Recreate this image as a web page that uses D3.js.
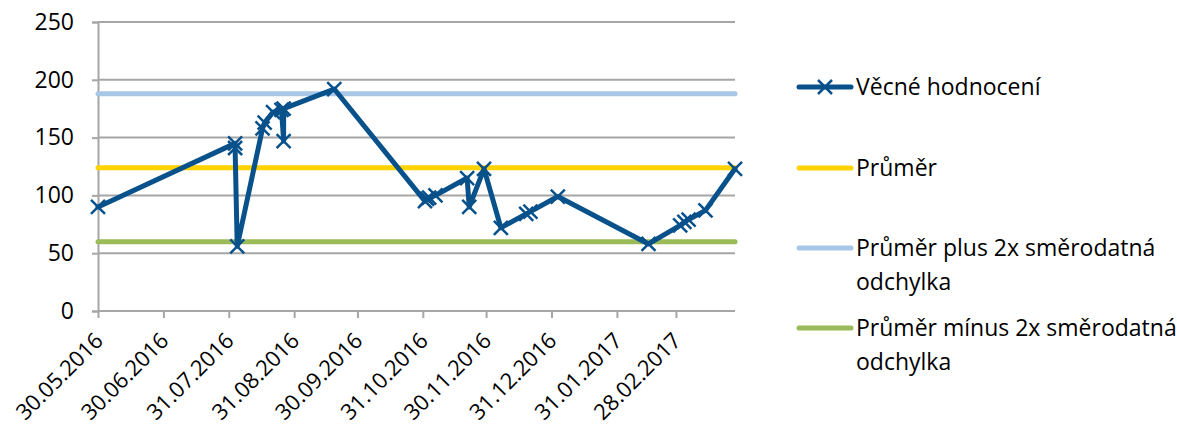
<!DOCTYPE html>
<html>
<head>
<meta charset="utf-8">
<script src="https://cdn.jsdelivr.net/npm/d3@7"></script>
<style>
  html, body { margin: 0; padding: 0; background: #fff; }
  svg { display: block; font-family: "Open Sans", sans-serif; }
</style>
</head>
<body>
<svg id="chart" width="1177" height="430"></svg>
<script>
// ---- data ----
const dates = ["30.05.2016","03.08.2016","03.08.2016","04.08.2016","16.08.2016","17.08.2016","21.08.2016","25.08.2016","26.08.2016","26.08.2016","19.09.2016","01.11.2016","02.11.2016","03.11.2016","06.11.2016","21.11.2016","22.11.2016","29.11.2016","07.12.2016","19.12.2016","21.12.2016","03.01.2017","15.02.2017","02.03.2017","04.03.2017","06.03.2017","14.03.2017","28.03.2017"];
const values = [90,145,141,56,158,163,172,174,147,175,192,95,97,98,100,115,90,123,72,84,86,99,58,74,77,79,87,123];
const mean = 124;
const meanPlus2sd = 188;
const meanMinus2sd = 60;
const xTickLabels = ["30.05.2016","30.06.2016","31.07.2016","31.08.2016","30.09.2016","31.10.2016","30.11.2016","31.12.2016","31.01.2017","28.02.2017"];
const yTicks = [0,50,100,150,200,250];
const seriesNames = ["Věcné hodnocení","Průměr","Průměr plus 2x směrodatná|odchylka","Průměr mínus 2x směrodatná|odchylka"];
const colors = ["#08518b","#ffd200","#a8c6e6","#9bbb59"];

// ---- layout ----
const parse = d3.utcParse("%d.%m.%Y");
const svg = d3.select("#chart");
const pLeft = 98, pRight = 735, pTop = 22, pBottom = 311;
const fs = 23;

const x = d3.scaleUtc().domain([parse(dates[0]), parse(dates[dates.length-1])]).range([pLeft, pRight]);
const y = d3.scaleLinear().domain([0, 250]).range([pBottom, pTop]);

// gridlines
svg.append("g").selectAll("line").data(yTicks.filter(d => d > 0)).join("line")
  .attr("x1", pLeft).attr("x2", pRight)
  .attr("y1", d => y(d)).attr("y2", d => y(d))
  .attr("stroke", "#a6a6a6").attr("stroke-width", 2);

// y axis
const yAxis = d3.axisLeft(y).tickValues(yTicks).tickSize(6).tickPadding(18);
const gy = svg.append("g").attr("transform", `translate(${pLeft},0)`).call(yAxis);
gy.select(".domain").attr("stroke", "#a6a6a6").attr("stroke-width", 2);
gy.selectAll(".tick line").attr("stroke", "#a6a6a6").attr("stroke-width", 2);
gy.selectAll(".tick text").attr("font-size", fs).attr("fill", "#000")
  .attr("font-family", "'Open Sans', sans-serif");

// x axis
const xAxis = d3.axisBottom(x).tickValues(xTickLabels.map(parse)).tickSize(7)
  .tickFormat(d3.utcFormat("%d.%m.%Y"));
const gx = svg.append("g").attr("transform", `translate(0,${pBottom})`).call(xAxis);
gx.select(".domain").attr("stroke", "#a6a6a6").attr("stroke-width", 2).attr("d", `M${pLeft},0H${pRight}`);
gx.selectAll(".tick line").attr("stroke", "#a6a6a6").attr("stroke-width", 2);
gx.selectAll(".tick text")
  .attr("font-size", 22).attr("fill", "#000")
  .attr("font-family", "'Open Sans', sans-serif")
  .attr("text-anchor", "end")
  .attr("dy", 0)
  .attr("transform", "translate(6,31) rotate(-45)")
  .attr("y", 0).attr("x", 0);

// reference lines
const refs = [[mean, colors[1]], [meanPlus2sd, colors[2]], [meanMinus2sd, colors[3]]];
svg.append("g").selectAll("line").data(refs).join("line")
  .attr("x1", pLeft).attr("x2", pRight)
  .attr("y1", d => y(d[0])).attr("y2", d => y(d[0]))
  .attr("stroke", d => d[1]).attr("stroke-width", 5).attr("stroke-linecap", "round");

// series line
const pts = dates.map((d, i) => [x(parse(d)), y(values[i])]);
svg.append("path").attr("d", d3.line()(pts))
  .attr("fill", "none").attr("stroke", colors[0]).attr("stroke-width", 5)
  .attr("stroke-linejoin", "round").attr("stroke-linecap", "round");

// markers
const m = 7;
function xMarker(g, cx, cy) {
  g.append("path")
    .attr("d", `M${cx-m},${cy-m}L${cx+m},${cy+m}M${cx-m},${cy+m}L${cx+m},${cy-m}`)
    .attr("stroke", colors[0]).attr("stroke-width", 2.5).attr("fill", "none");
}
const mg = svg.append("g");
pts.forEach(p => xMarker(mg, p[0], p[1]));

// legend
const lg = svg.append("g");
const legendY = [87, 168, 248, 328];
seriesNames.forEach((name, i) => {
  const ly = legendY[i];
  lg.append("line").attr("x1", 799).attr("x2", 851).attr("y1", ly).attr("y2", ly)
    .attr("stroke", colors[i]).attr("stroke-width", 5).attr("stroke-linecap", "round");
  if (i === 0) xMarker(lg, 825, ly);
  const t = lg.append("text").attr("x", 856).attr("y", ly + 8)
    .attr("font-size", fs).attr("fill", "#000");
  name.split("|").forEach((s, j) => {
    t.append("tspan").attr("x", 856).attr("dy", j === 0 ? 0 : 34).text(s);
  });
});
</script>
</body>
</html>
